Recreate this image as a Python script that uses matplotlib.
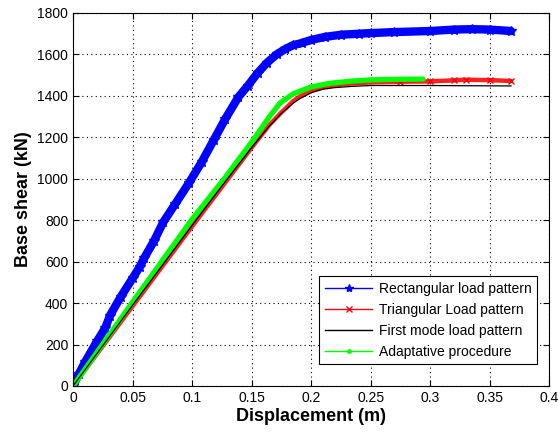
import matplotlib
matplotlib.use("Agg")
import matplotlib.pyplot as plt
from matplotlib.lines import Line2D

plt.rcParams['font.family'] = ['Liberation Sans', 'DejaVu Sans']

# Pushover curves: displacement (m) vs base shear (kN)
rect_d = [0, 0.005, 0.01, 0.02, 0.027, 0.031, 0.04, 0.05, 0.056, 0.06, 0.068,
          0.0757, 0.086, 0.0974, 0.108, 0.118, 0.128, 0.139, 0.147, 0.155, 0.163,
          0.171, 0.178, 0.185, 0.192, 0.2, 0.212, 0.225, 0.24, 0.25, 0.27, 0.3,
          0.32, 0.335, 0.35, 0.368]
rect_v = [0, 60, 115, 215, 280, 340, 430, 520, 575, 620, 700,
          790, 880, 980, 1080, 1185, 1290, 1395, 1450, 1510, 1560,
          1600, 1625, 1645, 1655, 1670, 1685, 1695, 1700, 1703, 1708, 1713,
          1720, 1722, 1720, 1713]

tri_d = [0, 0.05, 0.1, 0.125, 0.15, 0.165, 0.175, 0.185, 0.19, 0.2, 0.21,
         0.22, 0.235, 0.25, 0.275, 0.3, 0.32, 0.33, 0.35, 0.368]
tri_v = [0, 385, 770, 960, 1150, 1260, 1320, 1375, 1395, 1425, 1443,
         1452, 1460, 1465, 1468, 1470, 1475, 1478, 1476, 1472]

mode_d = [0, 0.05, 0.1, 0.125, 0.15, 0.165, 0.175, 0.185, 0.19, 0.2, 0.21,
          0.22, 0.235, 0.25, 0.275, 0.3, 0.33, 0.368]
mode_v = [0, 390, 775, 965, 1150, 1255, 1315, 1365, 1385, 1415, 1432,
          1440, 1446, 1450, 1450, 1450, 1449, 1448]

adapt_d = [0, 0.05, 0.1, 0.127, 0.153, 0.165, 0.174, 0.185, 0.2, 0.215,
           0.235, 0.25, 0.27, 0.294]
adapt_v = [0, 405, 805, 1000, 1200, 1300, 1366, 1410, 1443, 1460,
           1472, 1477, 1480, 1481]

x_ticks = [0, 0.05, 0.1, 0.15, 0.2, 0.25, 0.3, 0.35, 0.4]
x_labels = ['0', '0.05', '0.1', '0.15', '0.2', '0.25', '0.3', '0.35', '0.4']
y_ticks = list(range(0, 1801, 200))

fig = plt.figure(figsize=(5.58, 4.36), dpi=100)
ax = fig.add_axes([0.131, 0.1147, 0.853, 0.8555])

# dense marker clouds drawn as thick bands
ax.plot(rect_d, rect_v, color='#0000ff', lw=6, solid_capstyle='round')
ax.plot(rect_d, rect_v, color='#0000ff', lw=0, marker='*', ms=7)
ax.plot(tri_d, tri_v, color='#ff2020', lw=3.2, solid_capstyle='round')
ax.plot(tri_d, tri_v, color='#ff0000', lw=0, marker='x', ms=5, mew=1,
        markevery=slice(-6, None))
ax.plot(adapt_d, adapt_v, color='#00ff00', lw=3.8, solid_capstyle='round')
ax.plot(mode_d, mode_v, color='black', lw=0.9)

ax.set_xlim(0, 0.4)
ax.set_ylim(0, 1800)
ax.set_xticks(x_ticks)
ax.set_xticklabels(x_labels)
ax.set_yticks(y_ticks)
ax.grid(True, color='black', linestyle=(0, (1, 3)), linewidth=0.8)
ax.tick_params(direction='in', top=True, right=True, labelsize=10, length=4)
for s in ax.spines.values():
    s.set_linewidth(0.8)

ax.set_xlabel('Displacement (m)', fontsize=13, fontweight='bold', labelpad=2)
ax.set_ylabel('Base shear (kN)', fontsize=13, fontweight='bold', labelpad=4)

handles = [
    Line2D([], [], color='#0000ff', marker='*', ms=6, lw=1),
    Line2D([], [], color='#ff0000', marker='x', ms=4, lw=1),
    Line2D([], [], color='black', lw=1),
    Line2D([], [], color='#00ff00', marker='.', ms=5, lw=1),
]
names = ['Rectangular load pattern', 'Triangular Load pattern',
         'First mode load pattern', 'Adaptative procedure']
leg = ax.legend(handles, names, loc='lower right', bbox_to_anchor=(0.99, 0.04),
                fontsize=10, fancybox=False, framealpha=1, edgecolor='black',
                handlelength=3.4, borderpad=0.4, labelspacing=0.5,
                handletextpad=0.5)
leg.get_frame().set_linewidth(0.8)

fig.savefig('out.png', dpi=100)
